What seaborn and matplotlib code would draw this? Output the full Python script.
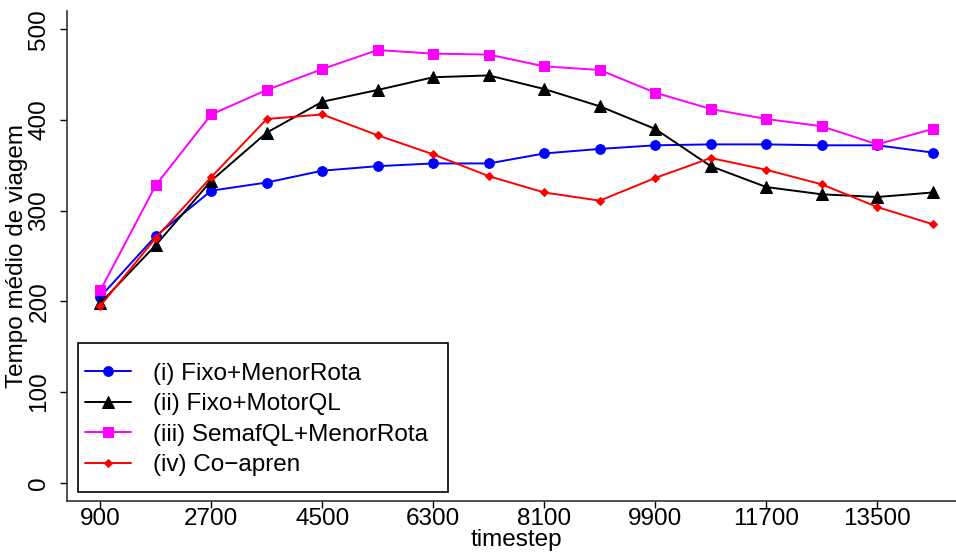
import pandas as pd
import matplotlib
matplotlib.use('Agg')
import matplotlib.pyplot as plt
from matplotlib.patches import Rectangle
import seaborn as sns

# Values
timestep = [900, 1800, 2700, 3600, 4500, 5400, 6300, 7200,
            8100, 9000, 9900, 10800, 11700, 12600, 13500, 14400]
fixo_menorrota = [205, 272, 322, 331, 344, 349, 352, 352,
                  363, 368, 372, 373, 373, 372, 372, 364]
fixo_motorql = [198, 262, 333, 386, 420, 433, 447, 449,
                434, 415, 390, 349, 326, 318, 315, 320]
semafql_menorrota = [212, 328, 406, 433, 456, 477, 473, 472,
                     459, 455, 430, 412, 401, 393, 373, 390]
co_apren = [195, 270, 337, 401, 406, 383, 362, 338,
            320, 311, 336, 358, 345, 329, 304, 285]

series_names = ['(i) Fixo+MenorRota', '(ii) Fixo+MotorQL',
                '(iii) SemafQL+MenorRota', '(iv) Co\u2212apren']
xticks = [900, 2700, 4500, 6300, 8100, 9900, 11700, 13500]
yticks = [0, 100, 200, 300, 400, 500]

df = pd.DataFrame({'timestep': timestep,
                   series_names[0]: fixo_menorrota,
                   series_names[1]: fixo_motorql,
                   series_names[2]: semafql_menorrota,
                   series_names[3]: co_apren})

sns.set_style('white')
plt.rcParams['font.family'] = ['Liberation Sans', 'DejaVu Sans']
plt.rcParams['text.color'] = 'black'
plt.rcParams['axes.labelcolor'] = 'black'
fs = 17.5

colors = ['#0000FF', '#000000', '#FF00FF', '#FF0000']
markers = ['o', '^', 's', 'D']
msizes = [7, 8, 7.5, 4.5]

fig = plt.figure(figsize=(9.56, 5.52), dpi=100)
ax = fig.add_axes([67 / 956, 51 / 552, 899 / 956, 490 / 552])

for name, c, m, ms in zip(series_names, colors, markers, msizes):
    sns.lineplot(data=df, x='timestep', y=name, ax=ax, color=c, marker=m,
                 markersize=ms, markeredgecolor=c, linewidth=1.4, label=name)

ax.set_xlim(360, 14940)
ax.set_ylim(-20, 520)
ax.set_xticks(xticks)
ax.set_xticklabels([str(t) for t in xticks])
ax.set_yticks(yticks)
ax.set_yticklabels([str(t) for t in yticks], rotation=90, va='center')
ax.tick_params(axis='both', direction='out', length=5, width=1, colors='black',
               labelcolor='black', labelsize=fs, bottom=True, left=True)
ax.tick_params(axis='x', pad=0)
ax.tick_params(axis='y', pad=7)
ax.set_xlabel('timestep', fontsize=fs, labelpad=-1)
ax.set_ylabel('Tempo médio de viagem', fontsize=fs, labelpad=0)

for side in ['top', 'right']:
    ax.spines[side].set_visible(False)
for side in ['left', 'bottom']:
    ax.spines[side].set_color('#333333')
    ax.spines[side].set_linewidth(1.2)

# legend frame like the R one, then the entries without their own frame
ax.add_patch(Rectangle((11 / 899, 8.7 / 490), 370 / 899, 149.6 / 490,
                       transform=ax.transAxes, fill=False, edgecolor='black',
                       linewidth=1.2, zorder=5))
ax.legend(loc='center left', bbox_to_anchor=(18 / 899, 81.5 / 490),
          frameon=False, fontsize=fs, borderpad=0, borderaxespad=0,
          handlelength=1.9, handletextpad=0.9, labelspacing=0.35)

fig.savefig('out.png', dpi=100)
